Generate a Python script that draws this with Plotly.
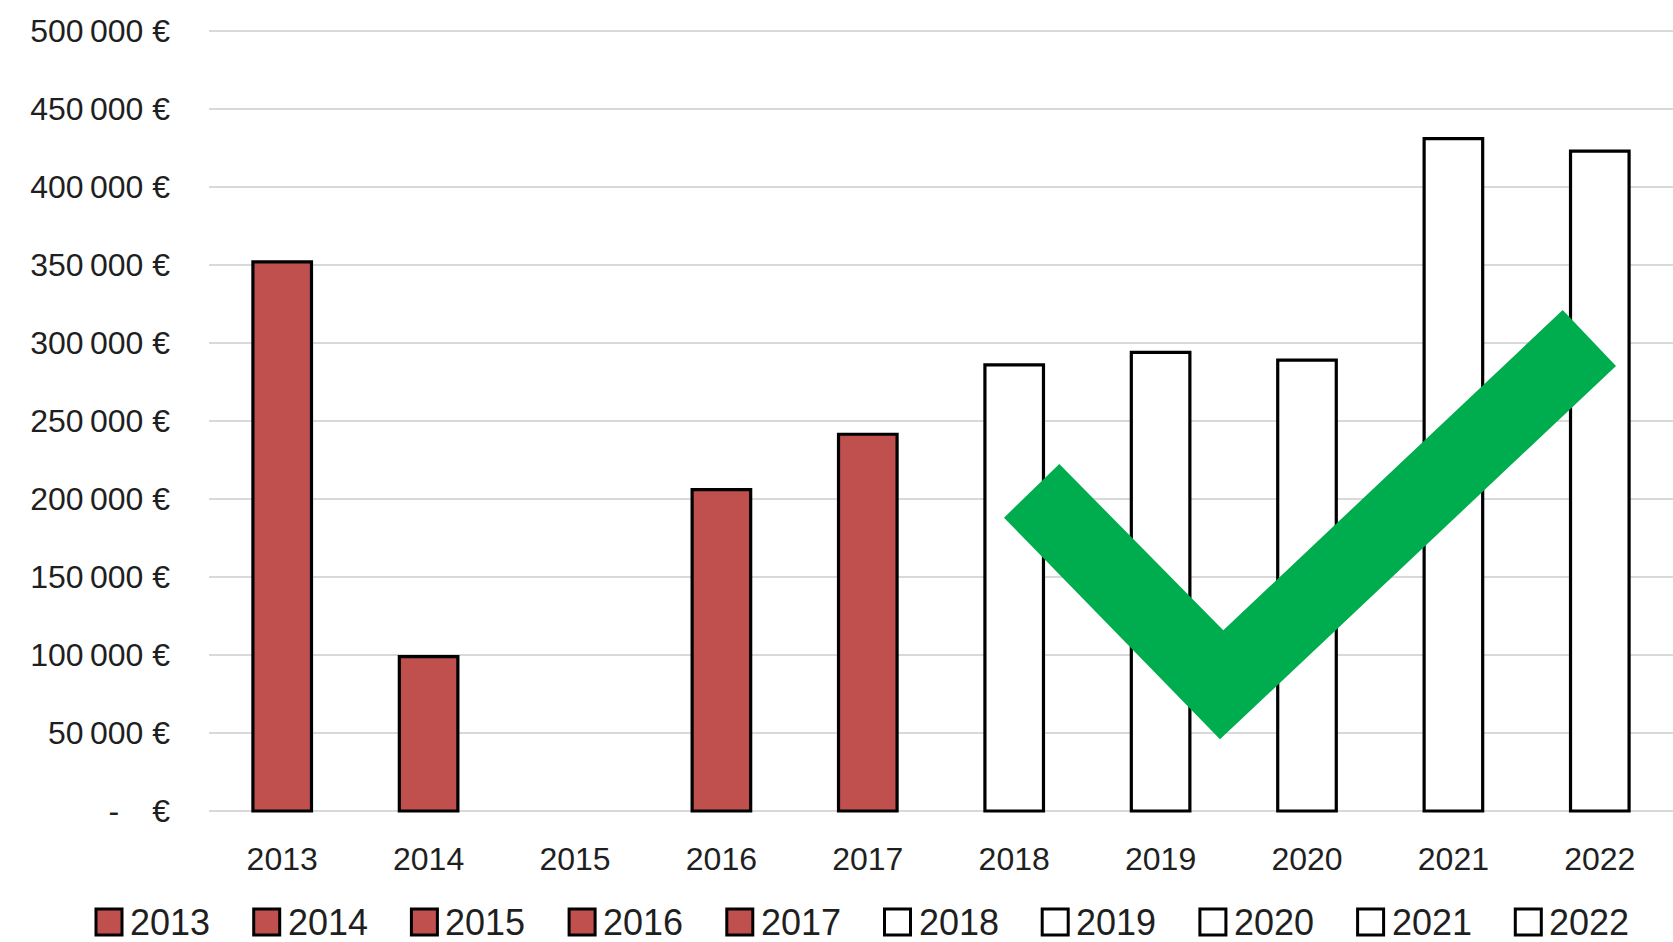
import plotly.graph_objects as go

# ---------------- data ----------------
years = ["2013", "2014", "2015", "2016", "2017", "2018", "2019", "2020", "2021", "2022"]
values = [352000, 99000, None, 206000, 241500, 286000, 294000, 289000, 431000, 423000]
past_years = ["2013", "2014", "2015", "2016", "2017"]
y_tick_values = [0, 50000, 100000, 150000, 200000, 250000, 300000, 350000, 400000, 450000, 500000]
y_tick_labels = ["-\u00a0\u00a0\u00a0\u2009€", "50\u2009000\u00a0€", "100\u2009000\u00a0€", "150\u2009000\u00a0€",
                 "200\u2009000\u00a0€", "250\u2009000\u00a0€", "300\u2009000\u00a0€", "350\u2009000\u00a0€",
                 "400\u2009000\u00a0€", "450\u2009000\u00a0€", "500\u2009000\u00a0€"]
y_min, y_max = 0, 500000

# ---------------- style ----------------
W, H = 1673, 942
ML, MR, MT, MB = 209, 0, 28, 128
ZERO_PX, TOP_PX = 811, 31          # pixel rows of y_min and y_max
RED = "#C0504D"
GREEN = "#00AD4E"
TXT = "#1F1F1F"
FONT = "Liberation Sans, Arial, sans-serif"

PW = W - ML - MR
PH = H - MT - MB
k = (ZERO_PX - TOP_PX) / (y_max - y_min)
pad_lo = ((H - MB) - ZERO_PX) / k
pad_hi = (TOP_PX - MT) / k


def px(x):
    return (x - ML) / PW


def py(y):
    return (H - MB - y) / PH


fig = go.Figure()
for yr, v in zip(years, values):
    fill = RED if yr in past_years else "white"
    fig.add_trace(go.Bar(
        x=[yr], y=[v], name=yr, width=0.4,
        marker=dict(color=fill, line=dict(color="black", width=3.2)),
        showlegend=False,
    ))

# manual legend (large square swatches like the original)
shapes = []
annotations = []
for i, yr in enumerate(years):
    x0 = 96 + i * 157.7
    fill = RED if yr in past_years else "white"
    shapes.append(dict(type="rect", xref="paper", yref="paper",
                       x0=px(x0), x1=px(x0 + 26), y0=py(909), y1=py(935),
                       fillcolor=fill, line=dict(color="black", width=3), layer="above"))
    annotations.append(dict(xref="paper", yref="paper", x=px(x0 + 32), y=py(922),
                            xanchor="left", yanchor="middle", text=yr, showarrow=False,
                            font=dict(family=FONT, size=36, color=TXT)))

# green check mark
check = [(1004, 517.7), (1220, 739.3), (1616, 366), (1562.7, 310), (1223.3, 630.3), (1059.3, 464)]
path = "M " + " L ".join(f"{px(a):.5f},{py(b):.5f}" for a, b in check) + " Z"
shapes.append(dict(type="path", xref="paper", yref="paper", path=path,
                   fillcolor=GREEN, line=dict(width=0), layer="above"))

fig.update_layout(
    width=W, height=H, autosize=False,
    margin=dict(l=ML, r=MR, t=MT, b=MB, pad=0),
    paper_bgcolor="white", plot_bgcolor="white",
    barmode="overlay",
    showlegend=False,
    shapes=shapes,
    annotations=annotations,
    font=dict(family=FONT, color=TXT),
)
fig.update_xaxes(type="category", categoryorder="array", categoryarray=years,
                 showgrid=False, showline=False, zeroline=False, ticks="",
                 tickfont=dict(family=FONT, size=32, color=TXT), ticklabelstandoff=23)
fig.update_yaxes(range=[y_min - pad_lo, y_max + pad_hi], tickvals=y_tick_values, ticktext=y_tick_labels,
                 showgrid=True, gridcolor="#D9D9D9", gridwidth=2, zeroline=False,
                 showline=False, ticks="",
                 tickfont=dict(family=FONT, size=32, color=TXT), ticklabelstandoff=38)

fig.write_html("out.html", config={"displayModeBar": False},
               post_script="document.body.style.margin='0';document.body.style.overflow='hidden';")
